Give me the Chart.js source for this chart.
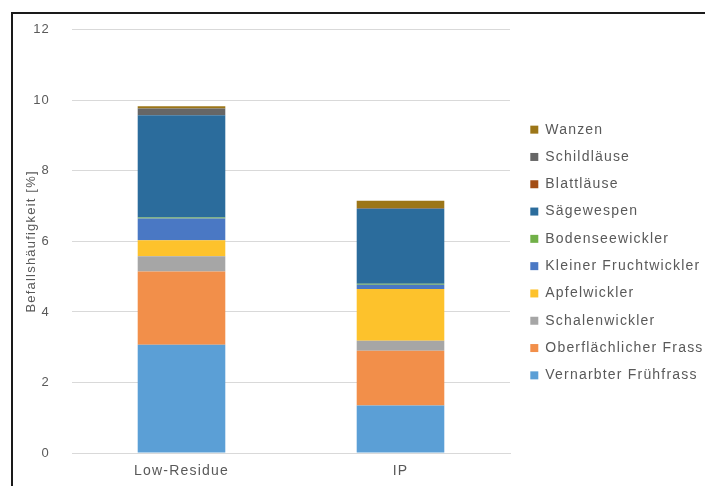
<!DOCTYPE html>
<html>
<head>
<meta charset="utf-8">
<script src="https://cdn.jsdelivr.net/npm/chart.js@4/dist/chart.umd.min.js"></script>
<style>
  html, body { margin: 0; padding: 0; background: #fff; }
  #wrap { position: relative; width: 705px; height: 486px; overflow: hidden; }
  #frame { position: absolute; left: 11px; top: 12px; right: -5px; bottom: -5px;
           border-left: 2px solid #1a1a1a; border-top: 2px solid #1a1a1a; }
  canvas { position: absolute; left: 0; top: 0; }
</style>
</head>
<body>
<div id="wrap">
  <div id="frame"></div>
  <canvas id="c" width="705" height="486"></canvas>
</div>
<script>
// Kategorien (Anbausysteme)
const categories = ['Low-Residue', 'IP'];

// Befallshäufigkeit je Schadursache [%]
const vernarbterFruehfrass   = [3.07, 1.35];
const oberflaechlicherFrass  = [2.08, 1.55];
const schalenwickler         = [0.43, 0.28];
const apfelwickler           = [0.45, 1.47];
const kleinerFruchtwickler   = [0.62, 0.12];
const bodenseewickler        = [0.03, 0.03];
const saegewespen            = [2.90, 2.12];
const blattlaeuse            = [0.00, 0.00];
const schildlaeuse           = [0.19, 0.02];
const wanzen                 = [0.06, 0.21];

const yTicks = [0, 2, 4, 6, 8, 10, 12];

const series = [
  ['Vernarbter Frühfrass', vernarbterFruehfrass, '#5b9fd6'],
  ['Oberflächlicher Frass', oberflaechlicherFrass, '#f28f4a'],
  ['Schalenwickler', schalenwickler, '#a6a6a6'],
  ['Apfelwickler', apfelwickler, '#fdc22c'],
  ['Kleiner Fruchtwickler', kleinerFruchtwickler, '#4a78c4'],
  ['Bodenseewickler', bodenseewickler, '#71b048'],
  ['Sägewespen', saegewespen, '#2b6c9c'],
  ['Blattläuse', blattlaeuse, '#a34d14'],
  ['Schildläuse', schildlaeuse, '#666666'],
  ['Wanzen', wanzen, '#9c7618'],
];

const datasets = series.map(([label, data, color]) => ({
  label, data,
  backgroundColor: color,
  borderWidth: 0,
  categoryPercentage: 0.8,
  barPercentage: 0.5,
}));

const family = '"Liberation Sans", Arial, sans-serif';
const font = { family, size: 13 };

// wide letter spacing for all canvas text, fixed-width legend column
const LEGEND_WIDTH = 195;
const LEGEND_INSET = 7;
const LEGEND_RAISE = 4;
const layoutTweaks = {
  id: 'layoutTweaks',
  beforeUpdate(chart) { chart.ctx.letterSpacing = '1.2px'; },
  beforeDraw(chart) { chart.ctx.letterSpacing = '1.2px'; },
  beforeLayout(chart) {
    const lg = chart.legend;
    if (lg && !lg._fixedFit) {
      const fit = lg.fit.bind(lg);
      lg.fit = function () { fit(); this.width = LEGEND_WIDTH; };
      lg._fixedFit = true;
    }
  },
  afterLayout(chart) {
    const lg = chart.legend;
    if (lg) {
      lg.left += LEGEND_INSET; lg.width -= LEGEND_INSET;
      lg.top -= LEGEND_RAISE; lg.bottom -= LEGEND_RAISE;
    }
  },
};

new Chart(document.getElementById('c'), {
  type: 'bar',
  data: { labels: categories, datasets },
  plugins: [layoutTweaks],
  options: {
    responsive: false,
    animation: false,
    layout: { padding: { left: 22, top: 27, right: 0, bottom: 0 } },
    plugins: {
      tooltip: { enabled: false },
      legend: {
        position: 'right',
        reverse: true,
        labels: {
          boxWidth: 8, boxHeight: 8,
          padding: 13.3,
          color: '#595959',
          font: { family, size: 14 },
        },
      },
    },
    scales: {
      x: {
        stacked: true,
        grid: { display: false },
        border: { color: '#d9d9d9' },
        ticks: { color: '#595959', font: { family, size: 14 }, padding: 2 },
        afterFit: (s) => { s.height = 33; },
      },
      y: {
        stacked: true,
        min: 0, max: 12,
        afterBuildTicks: (s) => { s.ticks = yTicks.map(v => ({ value: v })); },
        grid: { color: '#d9d9d9', drawTicks: false },
        border: { display: false },
        ticks: { color: '#595959', font, padding: 22 },
        title: {
          display: true,
          text: 'Befallshäufigkeit [%]',
          color: '#595959',
          font,
          padding: { top: 2, bottom: 4 },
        },
        afterFit: (s) => { s.width = 50; },
      },
    },
  },
});
</script>
</body>
</html>
